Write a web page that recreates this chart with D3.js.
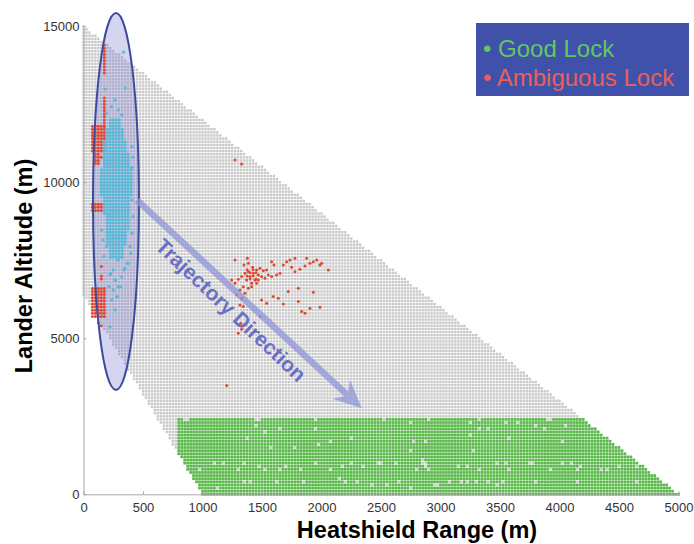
<!DOCTYPE html>
<html lang="en">
<head>
<meta charset="UTF-8">
<title>Heatshield Range vs Lander Altitude</title>
<script src="https://d3js.org/d3.v7.min.js"></script>
<style>
  body { margin: 0; background: #fff; }
  text { font-family: "Liberation Sans", Arial, Helvetica, sans-serif; }
</style>
</head>
<body>
<svg width="694" height="544"></svg>
<script>

// ---- data (metres) ----
var xTicks = [0, 500, 1000, 1500, 2000, 2500, 3000, 3500, 4000, 4500, 5000];
var yTicks = [0, 5000, 10000, 15000];

// simulated case grid: [range step, altitude step]
var gridStep = [25, 100];
// edges of the case envelope, [range, altitude]
var caseTopEdge = [[0, 15000], [5000, 0]];
var caseBottomEdge = [[0, 6400], [1000, 0]];

// good lock area
var goodTop = 2400;
var goodLeft = 780;
// cases inside good area that did not lock
var goodGaps = [
  [850,2400],[875,2400],[1450,2400],[1475,2400],[1950,2400],[2525,2400],[2900,2400],[3325,2400],[3900,2400],[3925,2400],
  [1455,2221],[1525,1954],[1651,2061],[1385,1794],[1959,2061],[1973,1634],[2253,1847],[2085,1687],[1581,1473],[1777,1473],
  [979,779],[1105,993],[1175,993],[1357,1046],[1301,779],[1483,939],[1525,779],[1651,779],[1707,939],[1833,779],
  [1959,993],[2085,833],[2169,886],[2253,1046],[2351,886],[2463,1046],[2505,1046],[2631,1046],[2785,1740],[2869,1740],
  [2757,1367],[2841,1046],[2883,886],[2799,779],[1343,405],[1399,352],[1623,405],[1847,352],[2155,459],[2211,405],
  [2295,405],[2421,299],[2547,299],[2645,405],[2939,299],[1133,245],
  [2744,2275],[3248,2275],[3318,2061],[3402,2061],[3556,2275],[3654,2275],[3808,2168],[3864,2061],[4060,2168],[3248,1901],
  [2786,1741],[2884,1741],[3584,1847],[4032,1687],[2758,1367],[3276,1367],[2842,1100],[2884,993],[2912,779],[3150,940],
  [3220,886],[3332,833],[3472,1046],[3556,993],[3584,779],[3738,993],[3780,1046],[3920,779],[4032,1046],[4088,993],
  [4158,833],[4186,940],[4354,833],[4396,779],[4508,940],[4648,940],[3080,352],[3164,352],[3220,352],[3290,406],
  [3402,406],[3528,406],[3794,406],[4144,406],[4648,352],[2758,245],[2968,267],[3472,267]
];

// ambiguous lock: filled blocks [rMin, rMax, aMin, aMax] and single cases
var ambigBlocks = [
  [75, 175, 11000, 11800],
  [175, 175, 11800, 12700],
  [175, 175, 13500, 14400],
  [100, 125, 10600, 10900],
  [75, 150, 9100, 9300],
  [75, 175, 5700, 6600]
];
var ambigPoints = [
  [1273,10714],[1329,10587],
  [1273,7511],[1377,7564],[1349,7351],[1385,7404],[1421,7276],[1455,7190],[1483,7244],[1511,7169],[1539,7190],
  [1581,7457],[1601,7351],[1623,7030],[1581,6977],[1651,7084],[1679,7351],[1707,7457],[1735,7511],[1749,7276],
  [1777,7564],[1777,7137],[1819,7212],[1861,7319],[1875,7564],[1903,7404],[1931,7457],[1959,7511],[1987,7351],
  [2001,7404],[2057,7190],
  [1245,6870],[1273,6763],[1301,6891],[1329,6977],[1357,7084],[1385,7137],[1399,6977],[1427,7084],[1441,6870],
  [1455,6763],[1413,6763],[1371,6870],[1343,6656],[1315,6550],[1287,6390],[1329,6283],[1357,6443],[1385,6603],
  [1413,6656],[1469,7030],[1497,6977],[1525,6924],[1553,7030],[1469,6870],
  [1400,7100],[1425,7000],[1400,6900],[1375,7000],[1450,7100],[1425,7200],[1375,7200],[1450,6900],
  [1497,6229],[1539,6122],[1595,6336],[1637,6283],[1679,6101],[1721,6496],[1805,6603],[1833,5855],[1861,5802],
  [1903,5962],[1987,5994],[1931,6475],[1805,6176],
  [1315,6069],[1343,6016],[1321,5482],[1329,5290],[1301,5161],[1483,5695],[1203,3484],
  [150,7300],[150,7000],[150,6900],[150,5400],[125,5500],[150,10800]
];

// actual landing dispersion (Monte Carlo)
var dispersionBlocks = [
  [225, 300, 11800, 12000],
  [200, 325, 11400, 11700],
  [175, 350, 11000, 11300],
  [175, 375, 10500, 10900],
  [150, 400, 9600, 10400],
  [175, 375, 9000, 9500],
  [200, 375, 8500, 8900],
  [200, 350, 8000, 8400],
  [225, 325, 7600, 7900]
];
var dispersionPoints = [
  [336,14170],[351,13020],[181,12990],[265,12640],[237,12420],[293,12320],[321,12160],[195,12210],
  [405,11140],[416,10810],[408,10480],
  [405,9430],[418,8900],[391,7940],[377,7400],[349,7240],[293,7510],[250,7190],[223,7030],[265,6870],
  [321,6970],[293,6650],[250,6550],[279,6330],[237,6230],[223,5370],[265,5910],[195,7940],[166,8150],
  [153,8470],[405,8370],[284,7510],[340,7190],[229,7080],[270,6870],[368,7400],[313,6650],[214,6650],
  [284,6330],[397,7720],[172,7620]
];

var ellipseCenter = [273, 9385];
var ellipseRadii = [193, 6040];
var arrowFrom = [450, 9430];
var arrowTo = [2338, 2756];
var legendLabels = ["Good Lock", "Ambiguous Lock"];

// ---- layout ----
var svg = d3.select("svg");

var x = d3.scaleLinear().domain([0, 5000]).range([83.5, 678.5]);
var y = d3.scaleLinear().domain([0, 15000]).range([494.3, 26.3]);

var color = d3.scaleOrdinal()
  .domain(["case", "good", "ambiguous", "dispersion"])
  .range(["#c9c9c9", "#58b848", "#e2472f", "#5ab8d6"]);

function edgeAlt(edge, r) {
  var a = edge[0][1] + (edge[1][1] - edge[0][1]) * (r - edge[0][0]) / (edge[1][0] - edge[0][0]);
  return Math.max(a, 0);
}

var key = function(r, a) {
  return Math.round(r / gridStep[0]) * gridStep[0] + "," + Math.round(a / gridStep[1]) * gridStep[1];
};
var gapSet = new Set(goodGaps.map(function(d) { return key(d[0], d[1]); }));

// build case grid
var cases = [];
d3.range(0, 5000 + 1, gridStep[0]).forEach(function(r) {
  d3.range(0, 15000 + 1, gridStep[1]).forEach(function(a) {
    if (a <= edgeAlt(caseTopEdge, r) + 1e-6 && a >= edgeAlt(caseBottomEdge, r) - 1e-6) {
      var good = a <= goodTop && r >= goodLeft && !gapSet.has(key(r, a));
      cases.push({r: r, a: a, good: good});
    }
  });
});

function fillBlocks(blocks) {
  var out = [];
  blocks.forEach(function(b) {
    d3.range(b[0], b[1] + 1, gridStep[0]).forEach(function(r) {
      d3.range(b[2], b[3] + 1, gridStep[1]).forEach(function(a) {
        out.push([r, a]);
      });
    });
  });
  return out;
}
var ambig = fillBlocks(ambigBlocks).concat(ambigPoints);
var dispersion = fillBlocks(dispersionBlocks).concat(dispersionPoints);

// gray cases
var cell = 2.4;
svg.append("g")
  .selectAll("rect")
  .data(cases.filter(function(d) { return !d.good; }))
  .enter()
  .append("rect")
  .attr("x", function(d) { return x(d.r) - cell / 2; })
  .attr("y", function(d) { return y(d.a) - cell / 2; })
  .attr("width", cell)
  .attr("height", cell)
  .attr("fill", color("case"));

// good lock cases
var gcell = 2.7;
svg.append("g")
  .selectAll("rect")
  .data(cases.filter(function(d) { return d.good; }))
  .enter()
  .append("rect")
  .attr("x", function(d) { return x(d.r) - gcell / 2; })
  .attr("y", function(d) { return y(d.a) - gcell / 2; })
  .attr("width", gcell)
  .attr("height", gcell)
  .attr("fill", color("good"));

// dispersion ellipse (fill under the dots)
var ecx = x(ellipseCenter[0]), ecy = y(ellipseCenter[1]);
var erx = x(ellipseCenter[0] + ellipseRadii[0]) - ecx;
var ery = ecy - y(ellipseCenter[1] + ellipseRadii[1]);

svg.append("ellipse")
  .attr("cx", ecx).attr("cy", ecy)
  .attr("rx", erx).attr("ry", ery)
  .attr("fill", "rgb(115,115,205)")
  .attr("fill-opacity", 0.3);

// ambiguous lock
svg.append("g")
  .selectAll("circle")
  .data(ambig)
  .enter()
  .append("circle")
  .attr("cx", function(d) { return x(d[0]); })
  .attr("cy", function(d) { return y(d[1]); })
  .attr("r", 1.5)
  .attr("fill", color("ambiguous"));

// dispersion
svg.append("g")
  .selectAll("circle")
  .data(dispersion)
  .enter()
  .append("circle")
  .attr("cx", function(d) { return x(d[0]); })
  .attr("cy", function(d) { return y(d[1]); })
  .attr("r", 1.6)
  .attr("fill", color("dispersion"));

svg.append("ellipse")
  .attr("cx", ecx).attr("cy", ecy)
  .attr("rx", erx).attr("ry", ery)
  .attr("fill", "none")
  .attr("stroke", "#3d4b9f")
  .attr("stroke-width", 2);

// axes
var xAxis = svg.append("g")
  .attr("transform", "translate(0," + y(0) + ")")
  .call(d3.axisBottom(x).tickValues(xTicks).tickFormat(d3.format("d"))
    .tickSizeInner(-3).tickSizeOuter(0).tickPadding(8));
var yAxis = svg.append("g")
  .attr("transform", "translate(" + x(0) + ",0)")
  .call(d3.axisLeft(y).tickValues(yTicks).tickFormat(d3.format("d"))
    .tickSizeInner(-3).tickSizeOuter(0).tickPadding(4));

[xAxis, yAxis].forEach(function(g) {
  g.select(".domain").attr("stroke", "#a8a8a8");
  g.selectAll(".tick line").attr("stroke", "#a8a8a8");
  g.selectAll(".tick text")
    .attr("fill", "#333")
    .style("font-size", "13px")
    .style("font-family", "'Liberation Sans', Arial, sans-serif");
});

// axis titles
svg.append("text")
  .attr("x", 417)
  .attr("y", 538)
  .attr("text-anchor", "middle")
  .style("font-size", "23.5px")
  .style("font-weight", "bold")
  .text("Heatshield Range (m)");

svg.append("text")
  .attr("transform", "translate(32,266) rotate(-90)")
  .attr("text-anchor", "middle")
  .style("font-size", "23.5px")
  .style("font-weight", "bold")
  .text("Lander Altitude (m)");

// trajectory arrow
var x0 = x(arrowFrom[0]), y0 = y(arrowFrom[1]);
var x1 = x(arrowTo[0]), y1 = y(arrowTo[1]);
var len = Math.hypot(x1 - x0, y1 - y0);
var ux = (x1 - x0) / len, uy = (y1 - y0) / len;
var headLen = 28, headW = 13, notch = 19;

var arrow = svg.append("g").attr("opacity", 0.75);
arrow.append("line")
  .attr("x1", x0).attr("y1", y0)
  .attr("x2", x1 - ux * notch).attr("y2", y1 - uy * notch)
  .attr("stroke", "#8f95d8")
  .attr("stroke-width", 6.5);
arrow.append("path")
  .attr("d", "M" + x1 + "," + y1 +
    "L" + (x1 - ux * headLen - uy * headW) + "," + (y1 - uy * headLen + ux * headW) +
    "L" + (x1 - ux * notch) + "," + (y1 - uy * notch) +
    "L" + (x1 - ux * headLen + uy * headW) + "," + (y1 - uy * headLen - ux * headW) + "Z")
  .attr("fill", "#8f95d8");

var angle = Math.atan2(y1 - y0, x1 - x0) * 180 / Math.PI;
svg.append("text")
  .attr("transform", "translate(" + x(1239) + "," + y(5907) + ") rotate(" + (angle + 0.5) + ")")
  .attr("text-anchor", "middle")
  .attr("dy", "0.35em")
  .attr("fill", "#6a70c4")
  .style("font-size", "21px")
  .style("font-weight", "bold")
  .text("Trajectory Direction");

// legend
svg.append("rect")
  .attr("x", 476)
  .attr("y", 23)
  .attr("width", 213)
  .attr("height", 73)
  .attr("fill", "#3f51a8");

var legend = svg.selectAll(".legend")
  .data(legendLabels)
  .enter()
  .append("text")
  .attr("class", "legend")
  .attr("x", 483)
  .attr("y", function(d, i) { return 57 + i * 29; })
  .attr("fill", function(d, i) { return i === 0 ? "#5fc95f" : "#ea5f5a"; })
  .style("font-size", "24px")
  .text(function(d) { return "\u2022 " + d; });

</script>
</body>
</html>
